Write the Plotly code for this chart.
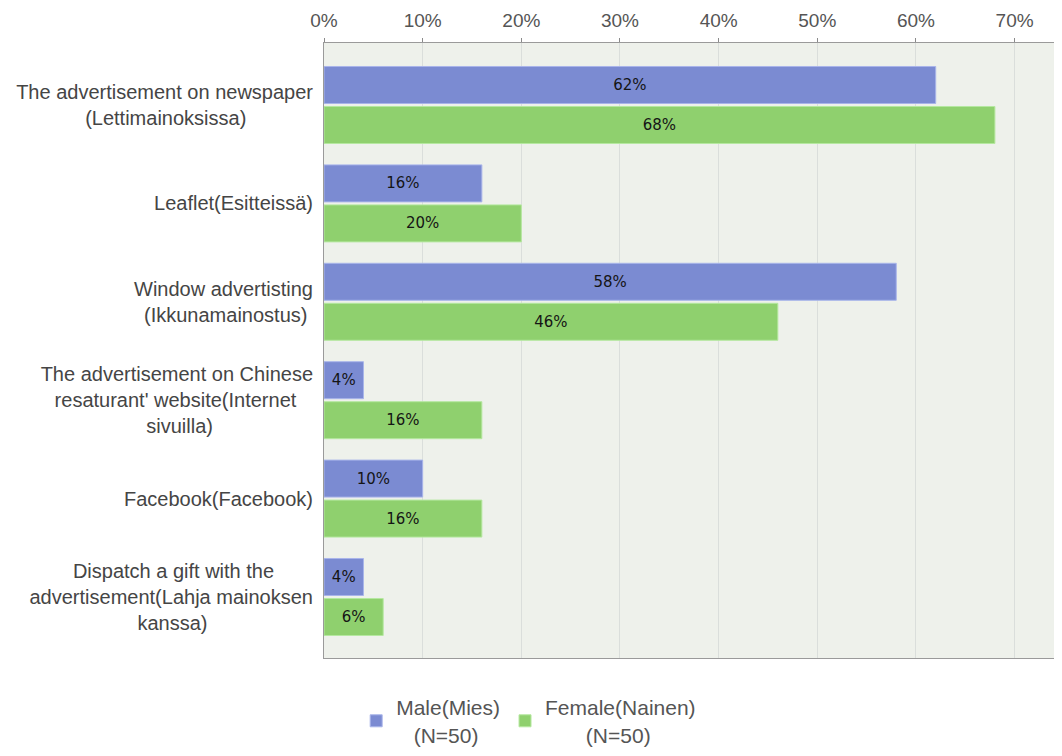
import plotly.graph_objects as go

categories = [
    "The advertisement on newspaper\n(Lettimainoksissa)",
    "Leaflet(Esitteissä)",
    "Window advertisting\n(Ikkunamainostus)",
    "The advertisement on Chinese\nresaturant' website(Internet\nsivuilla)",
    "Facebook(Facebook)",
    "Dispatch a gift with the\nadvertisement(Lahja mainoksen\nkanssa)",
]
male = [62, 16, 58, 4, 10, 4]
female = [68, 20, 46, 16, 16, 6]
series_names = ["Male(Mies)\n(N=50)", "Female(Nainen)\n(N=50)"]
tick_vals = [0, 10, 20, 30, 40, 50, 60, 70]
tick_text = ["0%", "10%", "20%", "30%", "40%", "50%", "60%", "70%"]

# approximate Arial / Liberation Sans advance widths (per 1000 em)
W = {" ": 278, "(": 333, ")": 333, "'": 191, "=": 584, "a": 556, "b": 556, "c": 500,
     "d": 556, "e": 556, "f": 278, "g": 556, "h": 556, "i": 222, "j": 222, "k": 500,
     "l": 222, "m": 833, "n": 556, "o": 556, "p": 556, "r": 333, "s": 500, "t": 278,
     "u": 556, "v": 500, "w": 722, "x": 500, "y": 500, "ä": 556, "C": 722, "D": 722,
     "F": 611, "I": 278, "L": 556, "T": 611, "W": 944, "S": 667, "M": 833, "N": 722}


def tw(s):
    return sum(W.get(ch, 556) for ch in s)


def center_lines(label, trailing=True):
    lines = label.split("\n")
    m = max(tw(l) for l in lines)
    out = []
    for l in lines:
        n = int(round((m - tw(l)) / 2 / 278))
        pad = "\u00a0" * n
        out.append(l + pad if trailing else pad + l)
    return "<br>".join(out)


ylabels = [center_lines(c, trailing=True) for c in categories]
legend_names = [center_lines(s, trailing=False) for s in series_names]

FONT = "Liberation Sans, Arial, sans-serif"
BARFONT = dict(family="DejaVu Sans, sans-serif", size=15, color="#151515")

fig = go.Figure()
fig.add_trace(go.Bar(
    y=ylabels, x=male, orientation="h", name=legend_names[0],
    marker=dict(color="#7b8bd2", line=dict(color="#a9b5ea", width=1)),
    text=[f"{v}%" for v in male], textposition="inside", insidetextanchor="middle",
    textfont=BARFONT,
))
fig.add_trace(go.Bar(
    y=ylabels, x=female, orientation="h", name=legend_names[1],
    marker=dict(color="#8fd06e", line=dict(color="#b6e8a0", width=1)),
    text=[f"{v}%" for v in female], textposition="inside", insidetextanchor="middle",
    textfont=BARFONT,
))

# page body adds an 8px margin, so the figure is laid out 8px up/left
fig.update_layout(
    width=1054, height=740,
    barmode="group", bargap=0.187, bargroupgap=0.075,
    paper_bgcolor="white", plot_bgcolor="#eef1eb",
    margin=dict(l=316, r=0, t=35, b=90),
    font=dict(family=FONT, size=20, color="#454545"),
    showlegend=True,
    legend=dict(
        orientation="h", xref="container", yref="container",
        x=0.494, xanchor="center", y=1 - 679 / 740, yanchor="top",
        font=dict(family=FONT, size=21, color="#555555"),
        traceorder="normal", itemwidth=30,
    ),
    uniformtext=dict(mode="show", minsize=8),
)
fig.update_xaxes(
    side="top", range=[0, 74.8], tickvals=tick_vals, ticktext=tick_text,
    ticks="outside", ticklen=4, tickcolor="#8a8a8a",
    showline=True, linecolor="#9a9a9a", linewidth=1, mirror=True,
    showgrid=True, gridcolor="#dadedb", gridwidth=1, zeroline=False,
    tickfont=dict(family=FONT, size=19, color="#555555"),
    ticklabelstandoff=3,
    automargin=False,
)
fig.update_yaxes(
    type="category", range=[5.62, -0.63],
    showline=True, linecolor="#9a9a9a", linewidth=1,
    ticks="", showgrid=False, ticklabelstandoff=6,
    tickfont=dict(family=FONT, size=20, color="#454545"),
    automargin=False,
)

fig.write_html("out.html")
